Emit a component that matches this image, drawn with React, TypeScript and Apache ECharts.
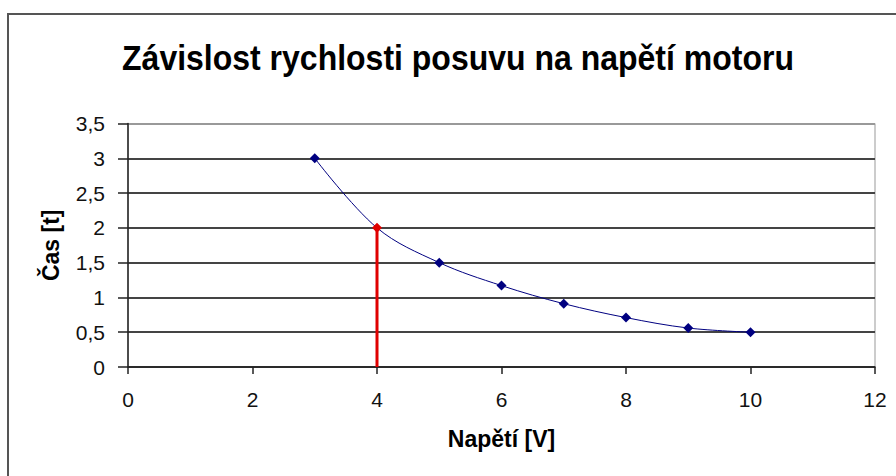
import React, { useEffect, useRef } from "react";
import * as echarts from "echarts";

const titleText = "Závislost rychlosti posuvu na napětí motoru";
const xName = "Napětí [V]";
const yName = "Čas [t]";
const voltage = [3, 4, 5, 6, 7, 8, 9, 10];
const time = [3, 2, 1.5, 1.17, 0.91, 0.71, 0.56, 0.5];
const highlightX = 4;
const highlightY = 2;

export default function App() {
  const ref = useRef<HTMLDivElement>(null);
  useEffect(() => {
    if (!ref.current) return;
    const chart = echarts.init(ref.current, undefined, { renderer: "svg" });
    const font = "'Liberation Sans', Arial, sans-serif";
    const gridColors = ["#444", "#444", "#444", "#444", "#444", "#444", "#444", "#999"];
    chart.setOption({
      animation: false,
      backgroundColor: "#fff",
      graphic: [
        {
          type: "rect",
          shape: { x: 8, y: 14, width: 900, height: 470 },
          style: { fill: "none", stroke: "#555", lineWidth: 2 },
          z: -1,
        },
        {
          type: "text",
          x: 458,
          y: 58,
          scaleY: 1.1,
          style: {
            text: titleText,
            font: `bold 32px ${font}`,
            fill: "#000",
            textAlign: "center",
            textVerticalAlign: "middle",
          },
        },
      ],
      grid: { left: 128, right: 21, top: 123.5, bottom: 109, show: true, borderColor: "#999", borderWidth: 1 },
      xAxis: {
        type: "value",
        min: 0,
        max: 12,
        interval: 2,
        name: xName,
        nameLocation: "middle",
        nameGap: 60,
        nameTextStyle: { fontFamily: font, fontSize: 23, fontWeight: "bold", color: "#000" },
        axisLine: { show: true, lineStyle: { color: "#222", width: 1.5 } },
        axisTick: { show: true, inside: false, length: 7, lineStyle: { color: "#222", width: 1.5 } },
        axisLabel: { fontFamily: font, fontSize: 21, color: "#111", margin: 22 },
        splitLine: { show: false },
      },
      yAxis: {
        type: "value",
        min: 0,
        max: 3.5,
        interval: 0.5,
        name: yName,
        nameLocation: "middle",
        nameGap: 66,
        nameRotate: 90,
        nameTextStyle: { fontFamily: font, fontSize: 23, fontWeight: "bold", color: "#000" },
        axisLine: { show: true, lineStyle: { color: "#222", width: 1.5 } },
        axisTick: { show: true, inside: false, length: 10, lineStyle: { color: "#222", width: 1.5 } },
        axisLabel: {
          fontFamily: font,
          fontSize: 21,
          color: "#111",
          margin: 23,
          formatter: (v: number) => String(v).replace(".", ","),
        },
        splitLine: { show: true, lineStyle: { color: gridColors, width: 2 } },
      },
      series: [
        {
          type: "line",
          data: [
            [highlightX, 0],
            [highlightX, highlightY],
          ],
          symbol: "none",
          lineStyle: { color: "#e00000", width: 3 },
          z: 2,
        },
        {
          type: "line",
          data: voltage.map((v, i) =>
            v === highlightX
              ? { value: [v, time[i]], itemStyle: { color: "#e00000" } }
              : [v, time[i]]
          ),
          smooth: 0.35,
          symbol: "diamond",
          symbolSize: 10,
          itemStyle: { color: "#000080" },
          lineStyle: { color: "#000080", width: 1 },
          z: 3,
        },
      ],
    });
    return () => chart.dispose();
  }, []);
  return (
    <div
      ref={ref}
      style={{ position: "absolute", left: 0, top: 0, width: 896, height: 476 }}
    />
  );
}
